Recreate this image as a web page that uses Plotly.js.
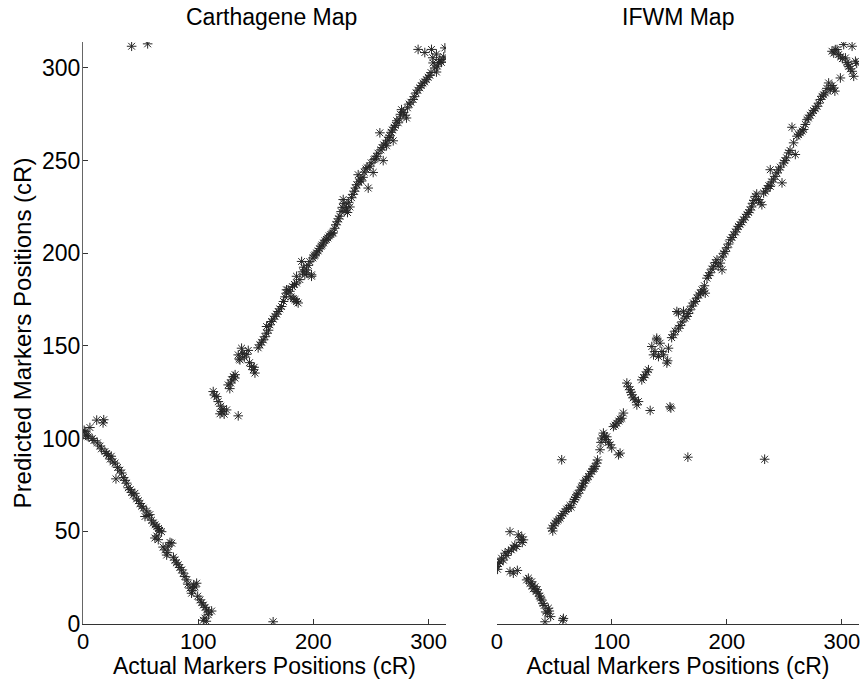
<!DOCTYPE html>
<html>
<head>
<meta charset="utf-8">
<script src="https://cdn.plot.ly/plotly-3.0.1.min.js"></script>
<style>
  html, body { margin: 0; padding: 0; background: #fff; }
  #chart { width: 862px; height: 679px; }
</style>
</head>
<body>
<div id="chart"></div>
<script>
// Carthagene map: actual vs predicted marker positions (cR)
const carthActual = [
  1.0, 1.7, 2.5, 3.5, 4.6, 6, 8, 9.5, 11.9, 12.5, 14.8, 16, 17.4, 18, 19, 20.5, 22, 23.6, 24.5, 26,
  27.8, 28.6, 30, 32, 33.5, 35, 36.5, 37.9, 39.3, 41, 42, 43.6, 45, 46.5, 48, 49.4, 51, 52.3, 53.8, 55.2,
  56.5, 58, 59.5, 61, 62.5, 64, 65.5, 66.5, 68.2, 62.4, 65.3, 64, 69.5, 71.1, 72.6, 73.5, 74, 75.5, 77, 78.5,
  79.8, 81, 82.6, 84, 85.6, 87, 88.4, 90, 91, 92.8, 94.2, 95, 96, 97.2, 98.6, 99.5, 101.5, 103, 104.4, 106,
  107.3, 109, 111.6, 108.7, 105.8, 104.4, 107, 165,
  42.2, 56.1,
  113, 114, 116, 117.4, 118.9, 119.5, 120.3, 121.5, 122.5, 124.6, 134.7,
  126, 127.4, 128.2, 129, 130.5, 131.8, 132,
  134.7, 135.5, 136.2, 137.6, 138.5, 140, 142, 143.4, 144.5, 146.3, 147.8, 149.2, 148.5,
  152, 153.5, 155, 156.4, 158, 159.3, 159.3, 161, 162.2, 163.6, 165, 166.5, 168, 169.4, 170.8, 172.3, 174, 175.3,
  176.6, 178, 179.5, 176.6, 180.5, 182.5, 183.9, 185.3, 186.7, 181.8, 183.5, 185.3, 185.3, 188.2, 189.7, 190.5,
  191.5, 192.5, 194, 194, 195.5, 196.8, 198.3, 198.3,
  199.5, 200.5, 201.5, 202.7, 204, 205.2, 206.5, 207.5, 208.7, 210, 211.2, 212.5, 213.6, 215, 216, 217, 218.3,
  219.5, 220.6, 221.8, 222.9, 224, 225, 225.8, 226.5, 227.5, 228.7, 229.5, 230.5, 231.6, 233, 234.2, 235.5,
  236.5, 237.5, 238.8, 239.5, 240.5, 241.5, 243, 244, 245.5, 247.5, 246.5, 248.9, 250, 251.8, 252.5, 253.5,
  254.7, 256, 257.6, 258.5, 260.5, 259.5, 261, 262.5, 263.4, 264.5, 265.5, 266.3, 267.5, 269.2, 268.5, 270,
  271, 272.3, 273.5, 274.5, 275.5, 276.4, 278, 279.5, 280.7, 281.5, 283, 284.5, 286.5, 287.5, 289, 290.5,
  292.3, 293.5, 295, 296.5, 298, 299.5, 301, 302, 303.8, 305.2, 306.7, 307.5, 308.5, 309.6, 311, 312.5,
  313, 314, 290.8, 296.6, 302.4, 306.7, 303.5
];
const carthPredicted = [
  104.5, 103.8, 102, 101.5, 101, 106, 100, 99, 110, 97.7, 96, 94.5, 108.5, 110.2, 93, 92, 91, 89, 90.5, 87.5,
  86.8, 78.3, 84.5, 83, 81.5, 79, 77.5, 76, 73.5, 72.5, 71, 69.6, 70.5, 67.5, 66.5, 65, 63.5, 62.5, 58, 61,
  58.5, 59, 56, 54.5, 53.5, 52.6, 51.5, 50.5, 49.8, 46.4, 45.5, 47.5, 41.5, 40, 37.2, 38.5, 42, 44, 43.6, 36,
  34.5, 33, 32, 30.5, 29.2, 27.5, 25.6, 23.8, 21.5, 19.4, 16.6, 18, 21, 20, 22, 15, 13, 11.5, 10.2, 9,
  7.6, 6.5, 7, 5, 3.2, 2, 1.5, 1.2,
  311.7, 313,
  125.4, 123.5, 122.7, 120, 113.4, 117.5, 114.6, 116, 113.2, 115.5, 112.3,
  129, 127, 130, 131.7, 133.5, 132.7, 134.5,
  145.2, 143, 142.5, 148.8, 146, 144, 145.5, 147.6, 141, 139, 137.2, 135.4, 138.5,
  149, 150.6, 152, 153.3, 155, 156.9, 160.5, 158.5, 161.4, 163.2, 164.5, 166, 167.2, 168.6, 170, 171.3, 174, 176.5,
  178.5, 180.3, 179.5, 180.3, 176.5, 175.5, 175, 174, 173.2, 182, 183.2, 184, 187.6, 185.8, 195.6, 190,
  192.5, 188.5, 189.4, 191, 193.5, 195.5, 187.6, 188.4,
  197.5, 198.6, 199.2, 200.2, 201.3, 202.5, 203.8, 204.5, 205.6, 206.8, 207.5, 208.3, 209.4, 210.2, 210.8, 211, 213.5,
  215.4, 217, 218.6, 220, 222.5, 224.8, 229, 226.8, 223.2, 224.5, 222, 227.5, 225, 230, 231.8, 233.5,
  235.2, 237, 242.4, 238.5, 240, 239, 241, 243.8, 245.5, 235.2, 246.2, 247, 248.8, 243.6, 250.5, 251,
  252.3, 254, 265, 255.8, 250, 257, 258.5, 259.5, 258, 261, 262.5, 263.4, 265.3, 260.7, 266.5, 268,
  269, 271.5, 270.4, 272.5, 275, 277.5, 276, 274.5, 273, 278.5, 280.5, 281.5, 283, 284.5, 286.5, 288,
  289.3, 290.5, 291.8, 292.5, 293.7, 295, 296, 297.5, 302.7, 300, 297.8, 301, 303, 304.5, 303, 304.5,
  306, 310.8, 310, 308.3, 310, 307.5, 305.5
];

// IFWM map: actual vs predicted marker positions (cR)
const ifwmActual = [
  0, 0.5, 1.2, 2.5, 4, 5.5, 7, 8.5, 9.9, 11.3, 11.3, 12.5, 14.2, 14.2, 15.5, 17.1, 17.7, 18.5, 20, 21.5, 23, 22,
  25.8, 27.3, 28.7, 30.2, 30.5, 31.5, 33.1, 34, 35, 36, 37, 38, 38.9, 40, 41, 42.4, 43.8, 44.7, 45.5, 46.7,
  41.8, 57.3, 57.8,
  47.6, 48.5, 49.5, 50.5, 52, 53.5, 54.9, 56, 56.3, 57.5, 59.2, 60.5, 62.1, 63.5, 64.5, 66.5, 67.5, 68.5,
  69.4, 70.5, 72.3, 73.5, 74.5, 75.2, 77, 78, 79.6, 81, 82.5, 83.5, 84.5, 85.4, 86.8, 87.5,
  89.7, 90.5, 91.2, 92.6, 93.5, 94.5, 95.5, 97, 98.4, 99.8, 105.7, 107.1, 101.3, 102.8, 104.2, 106, 107.2,
  108.6, 110,
  166.1, 232.9,
  113, 114.2, 115.9, 116.5, 117.4, 118.5, 120.2, 121.7, 123.1, 133.3, 151.3, 150.5,
  126, 127.5, 129, 130.5, 131.8,
  134.7, 136.2, 137.5, 139, 139, 140.5, 141.9, 143.4, 144.9, 147.8, 148.5, 149.2,
  152, 153.6, 155, 156.5, 157.9, 157.9, 159.5, 161, 162.3, 163.5, 165.2, 166.5, 168, 169.5, 171, 172.5, 174,
  175.5, 177, 178.3, 179.5, 181.2, 180.5, 182.7, 184, 185.5, 187, 188.5, 190, 191.4, 192.5, 194.3, 195.8,
  196, 197.2, 198.5, 200, 201.5, 203, 204.5, 206, 207.5, 208.8, 210, 211.5, 213, 214.5, 216, 217.5, 219,
  220.3, 221.5, 222.5, 223.5, 224.7, 226, 227.6, 229, 230.5, 232, 233.5, 235, 236.5, 237.8, 237.8, 239,
  240.5, 242, 243.6, 245, 246.5, 248, 249.4, 250.5, 252, 253.8, 255, 256.7, 258.1, 259.6, 261, 262.5, 264,
  265.5, 266.8, 268.3, 269.8, 271, 272.5, 274.1, 275.5, 277, 278.5, 280, 281.5, 282.8, 284.2, 285.7, 287,
  288.6, 290, 291.5, 292.9, 294, 298.8, 291.5, 293, 294.4, 295.9, 297.3, 299, 300.5, 301.7, 303.2, 304.5,
  305.5, 306, 307.5, 309, 310.4, 309, 311.9, 313
];
const ifwmPredicted = [
  31, 29.5, 32.7, 33.5, 35.5, 34.5, 38.2, 37, 39.1, 49.8, 28.3, 40, 41, 27.4, 42.5, 41.8, 28.9, 48.1, 45.4, 47, 45.4, 44,
  23.8, 24.7, 22, 22.8, 20.5, 19, 20.1, 17.5, 18.5, 16.6, 15, 14, 13, 11, 10, 6.5, 5.8, 8.5, 7, 4,
  1.2, 2, 3,
  51.7, 50.2, 53, 54.4, 55.5, 56.2, 57.1, 58.5, 88.6, 59.5, 60.7, 62, 62.5, 64, 63, 66, 67.2, 68.3,
  69.6, 70.5, 72.3, 73.8, 74.5, 76, 77.5, 78.2, 79.5, 81, 82.3, 83.5, 84, 85, 86.8, 88.5,
  94, 98, 100.3, 103, 101.5, 99.5, 101, 98, 96.7, 95, 91.3, 92.2, 106.5, 107.3, 108.3, 109.5, 110.5,
  111, 113.8,
  90, 88.9,
  130, 128, 126.4, 125, 123.7, 122, 121, 118.2, 120, 115.2, 116.5, 117.2,
  131.7, 133, 134.4, 136, 137.2,
  149.7, 145.2, 147, 153.3, 154.2, 144.3, 151.5, 147, 145.2, 140.8, 142, 148.8,
  154.5, 156, 158, 168.6, 159.6, 167.8, 161, 163, 168.7, 165, 165.9, 167.5, 169.5, 171.5, 173.2, 174, 175.9,
  177.5, 178.5, 180.3, 179.5, 178.5, 182.5, 186.6, 188, 189.5, 191.5, 193, 195, 196.5, 193, 194.7, 191.1,
  198, 200, 201, 203, 205, 207.3, 208.5, 210, 211.5, 213, 214.5, 215.5, 216.8, 218.1, 219.5, 221, 222,
  223.4, 225, 227, 228.5, 230.7, 232, 229, 227.5, 226.2, 232.5, 233.5, 235, 236.5, 236.1, 245.1, 238.5,
  240, 241.5, 243.4, 245, 246.5, 238, 248.8, 250, 251.5, 254.2, 255.5, 268, 259.6, 253.3, 263.2, 264, 265,
  266, 266.8, 269.5, 272.1, 273, 274.5, 275.7, 277, 278, 279.3, 281, 283, 284.7, 285.5, 286.5, 289,
  291.9, 288.3, 290.5, 289.2, 287.5, 294.6, 309, 308, 309.9, 309.9, 307.2, 306, 305, 312.6, 305.4, 303,
  302, 300.9, 299.5, 298.2, 295.5, 311.7, 303.6, 302.5
];

const xTicks = [0, 100, 200, 300];
const yTicks = [0, 50, 100, 150, 200, 250, 300];
const panelTitles = ['Carthagene Map', 'IFWM Map'];
const xTitle = 'Actual Markers Positions (cR)';
const yTitle = 'Predicted Markers Positions (cR)';

const FONT = 'Liberation Sans, Arial, Helvetica, sans-serif';
const INK = '#262626';

const starMarker = {
  symbol: 'asterisk-open',
  size: 8,
  color: INK,
  line: { color: INK, width: 1 }
};

const traces = [
  { type: 'scatter', mode: 'markers', x: carthActual, y: carthPredicted,
    xaxis: 'x', yaxis: 'y', marker: starMarker, hoverinfo: 'skip' },
  { type: 'scatter', mode: 'markers', x: ifwmActual, y: ifwmPredicted,
    xaxis: 'x2', yaxis: 'y2', marker: starMarker, hoverinfo: 'skip' }
];

const baseX = {
  range: [0, 315],
  tickmode: 'array', tickvals: xTicks,
  ticks: 'inside', ticklen: 5, tickwidth: 1, tickcolor: '#333',
  ticklabelstandoff: -2,
  showline: true, linecolor: '#333', linewidth: 1,
  showgrid: false, zeroline: false,
  tickfont: { family: FONT, size: 22, color: '#000' },
  title: { text: xTitle, font: { family: FONT, size: 23, color: '#000' }, standoff: 2 }
};

const layout = {
  width: 862, height: 679,
  margin: { l: 83, r: 3, t: 42, b: 55 },
  paper_bgcolor: '#fff', plot_bgcolor: '#fff',
  showlegend: false,
  font: { family: FONT, color: '#000' },
  xaxis: Object.assign({}, baseX, { domain: [0, 0.4678], anchor: 'y' }),
  xaxis2: Object.assign({}, baseX, { domain: [0.5335, 1], anchor: 'y2' }),
  yaxis: {
    domain: [0, 1], anchor: 'x', range: [0, 314],
    tickmode: 'array', tickvals: yTicks,
    ticks: 'inside', ticklen: 5, tickwidth: 1, tickcolor: '#333',
    ticklabelstandoff: -3,
    showline: true, linecolor: '#666', linewidth: 1,
    showgrid: false, zeroline: false,
    tickfont: { family: FONT, size: 23, color: '#000' },
    title: { text: yTitle, font: { family: FONT, size: 24, color: '#000' }, standoff: 3 }
  },
  yaxis2: {
    domain: [0, 1], anchor: 'x2', range: [0, 314],
    visible: false, showgrid: false, zeroline: false
  },
  annotations: [
    { text: panelTitles[0], xref: 'x domain', yref: 'paper', x: 0.52, y: 1, yshift: 25,
      showarrow: false, xanchor: 'center', yanchor: 'middle',
      font: { family: FONT, size: 23, color: '#000' } },
    { text: panelTitles[1], xref: 'x2 domain', yref: 'paper', x: 0.5, y: 1, yshift: 25,
      showarrow: false, xanchor: 'center', yanchor: 'middle',
      font: { family: FONT, size: 23, color: '#000' } }
  ]
};

Plotly.newPlot('chart', traces, layout, { staticPlot: true, displayModeBar: false });
</script>
</body>
</html>
